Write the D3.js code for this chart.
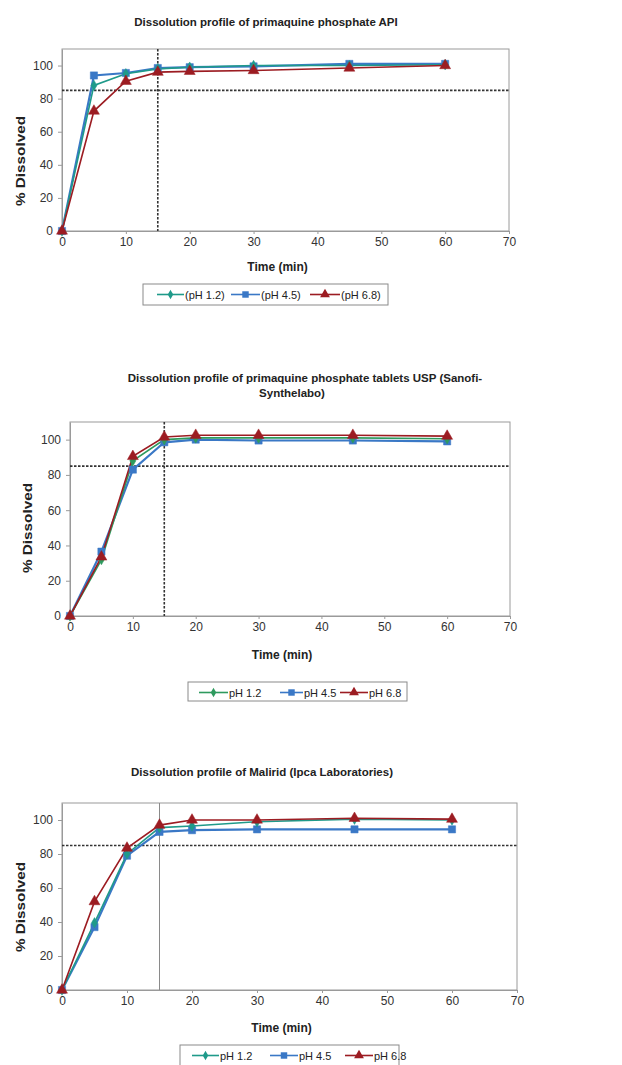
<!DOCTYPE html>
<html><head><meta charset="utf-8">
<script src="https://cdn.jsdelivr.net/npm/d3@7"></script>
<style>
body{margin:0;background:#fff;}
svg{display:block;font-family:"Liberation Sans",Arial,sans-serif;}
</style></head>
<body>
<svg id="c" width="622" height="1065"></svg>
<script>
// ---- data ----
const times = [0, 5, 10, 15, 20, 30, 45, 60];
const xTicks = [0, 10, 20, 30, 40, 50, 60, 70];
const yTicks = [0, 20, 40, 60, 80, 100];

const apiPH12 = [0, 88, 95, 98, 99, 100, 100, 100.5];
const apiPH45 = [0, 94, 95.5, 98.5, 99, 99.5, 101, 101];
const apiPH68 = [0, 72.5, 90.5, 96, 96.5, 97, 98.5, 100];

const sanPH12 = [0, 32, 88, 100, 101, 101, 101, 100.5];
const sanPH45 = [0, 36.5, 83, 98.5, 100, 99.5, 99.5, 99];
const sanPH68 = [0, 33.5, 90.5, 101.5, 102.5, 102.5, 102.5, 102];

const malPH12 = [0, 39.5, 80, 95.5, 96.5, 99, 100.5, 100];
const malPH45 = [0, 37, 79, 93, 94, 94.5, 94.5, 94.5];
const malPH68 = [0, 52, 83.5, 97, 100, 100, 101, 100.5];

const titles = [
  ["Dissolution profile of primaquine phosphate API"],
  ["Dissolution profile of primaquine phosphate tablets USP (Sanofi-", "Synthelabo)"],
  ["Dissolution profile of Malirid (Ipca Laboratories)"]
];
const legendLabels = [
  ["(pH 1.2)", "(pH 4.5)", "(pH 6.8)"],
  ["pH 1.2", "pH 4.5", "pH 6.8"],
  ["pH 1.2", "pH 4.5", "pH 6.8"]
];
const seriesSets = [
  [apiPH12, apiPH45, apiPH68],
  [sanPH12, sanPH45, sanPH68],
  [malPH12, malPH45, malPH68]
];
const refValue = 85;
const refTime = 15;

// ---- layout / style ----
const layouts = [
  {x0:62, x1:509, y0:49, y1:231, titleY:[26], titleX:[266], yLabX:20, yLabY:161, xLabY:271,
   leg:{x:143, y:284, w:245, h:21, items:[[157,184],[231,260],[310,340]]}, refSolid:false, c0:"#1f9a8a"},
  {x0:70, x1:510, y0:422, y1:616, titleY:[382, 397], titleX:[305, 292], yLabX:27, yLabY:528, xLabY:659,
   leg:{x:188, y:682, w:219, h:19, items:[[199,228],[280,303],[340,368]]}, refSolid:false, c0:"#2e9a5e"},
  {x0:62, x1:517, y0:803, y1:990, titleY:[776], titleX:[262], yLabX:20, yLabY:907, xLabY:1032,
   leg:{x:180, y:1045, w:219, h:26, items:[[192,219],[270,298],[345,373]]}, refSolid:true, c0:"#1f9a8a"}
];
const colors = ["#1f9a8a", "#3a78c6", "#9c1c22"];
const symbols = [d3.symbolDiamond, d3.symbolSquare, d3.symbolTriangle];
const symSizes = [32, 52, 52];

const svg = d3.select("#c");

layouts.forEach((L, ci) => {
  const g = svg.append("g");
  const x = d3.scaleLinear().domain([0, 70]).range([L.x0, L.x1]);
  const y = d3.scaleLinear().domain([0, 110]).range([L.y1, L.y0]);
  const cols = [L.c0, colors[1], colors[2]];

  // title
  titles[ci].forEach((t, i) => {
    g.append("text").attr("x", L.titleX[i]).attr("y", L.titleY[i])
      .attr("text-anchor", "middle").attr("font-size", 11.5).attr("font-weight", "bold")
      .attr("fill", "#222").text(t);
  });

  // plot frame
  g.append("rect").attr("x", L.x0).attr("y", L.y0).attr("width", L.x1 - L.x0).attr("height", L.y1 - L.y0)
    .attr("fill", "none").attr("stroke", "#9a9a9a").attr("stroke-width", 1);

  // axes
  const xa = g.append("g").attr("transform", `translate(0,${L.y1})`)
    .call(d3.axisBottom(x).tickValues(xTicks).tickSize(3).tickSizeOuter(0).tickPadding(3));
  const ya = g.append("g").attr("transform", `translate(${L.x0},0)`)
    .call(d3.axisLeft(y).tickValues(yTicks).tickSize(4).tickSizeOuter(0).tickPadding(5));
  [xa, ya].forEach(a => {
    a.select(".domain").attr("stroke", "#9a9a9a");
    a.selectAll(".tick line").attr("stroke", "#9a9a9a");
    a.selectAll(".tick text").attr("font-size", 12).attr("fill", "#333")
      .attr("font-family", "'Liberation Sans',Arial,sans-serif");
  });

  // axis labels
  g.append("text").attr("x", (L.x0 + L.x1) / 2 - 8).attr("y", L.xLabY).attr("text-anchor", "middle")
    .attr("font-size", 12).attr("font-weight", "bold").attr("fill", "#222").text("Time (min)");
  g.append("text").attr("transform", `translate(${L.yLabX + 5},${L.yLabY}) rotate(-90)`)
    .attr("text-anchor", "middle").attr("font-size", 13.5).attr("font-weight", "bold")
    .attr("textLength", 90).attr("lengthAdjust", "spacingAndGlyphs")
    .attr("fill", "#222").text("% Dissolved");

  // reference lines
  g.append("line").attr("x1", L.x0).attr("x2", L.x1).attr("y1", y(refValue)).attr("y2", y(refValue))
    .attr("stroke", "#333").attr("stroke-width", 1.6).attr("stroke-dasharray", "2.5,1.5");
  if (L.refSolid) {
    g.append("line").attr("x1", x(refTime)).attr("x2", x(refTime)).attr("y1", L.y0).attr("y2", L.y1)
      .attr("stroke", "#8a8a8a").attr("stroke-width", 1);
  } else {
    g.append("line").attr("x1", x(refTime)).attr("x2", x(refTime)).attr("y1", L.y0).attr("y2", L.y1)
      .attr("stroke", "#333").attr("stroke-width", 1.6).attr("stroke-dasharray", "2.5,1.5");
  }

  // series
  const line = d3.line().x((d, i) => x(times[i])).y(d => y(d));
  [1, 0, 2].forEach(si => {
    const vals = seriesSets[ci][si];
    g.append("path").datum(vals).attr("d", line).attr("fill", "none")
      .attr("stroke", cols[si]).attr("stroke-width", si === 1 ? 2.2 : 1.6);
  });
  [1, 0, 2].forEach(si => {
    const vals = seriesSets[ci][si];
    g.selectAll(null).data(vals).enter().append("path")
      .attr("d", d3.symbol().type(symbols[si]).size(symSizes[si]))
      .attr("transform", (d, i) => `translate(${x(times[i])},${y(d)})`)
      .attr("fill", cols[si]).attr("stroke", cols[si]).attr("stroke-width", 0.5);
  });

  // legend
  const lg = L.leg;
  g.append("rect").attr("x", lg.x).attr("y", lg.y).attr("width", lg.w).attr("height", lg.h)
    .attr("fill", "#fff").attr("stroke", "#8a8a8a").attr("stroke-width", 1);
  const ly = lg.y + 10.5;
  lg.items.forEach((it, si) => {
    g.append("line").attr("x1", it[0]).attr("x2", it[1]).attr("y1", ly).attr("y2", ly)
      .attr("stroke", cols[si]).attr("stroke-width", 1.6);
    g.append("path").attr("d", d3.symbol().type(symbols[si]).size(symSizes[si] * 0.8))
      .attr("transform", `translate(${(it[0] + it[1]) / 2},${ly})`).attr("fill", cols[si]);
    g.append("text").attr("x", it[1] + 1).attr("y", ly + 4).attr("font-size", 11)
      .attr("fill", "#222").text(legendLabels[ci][si]);
  });
});
</script>
</body></html>
